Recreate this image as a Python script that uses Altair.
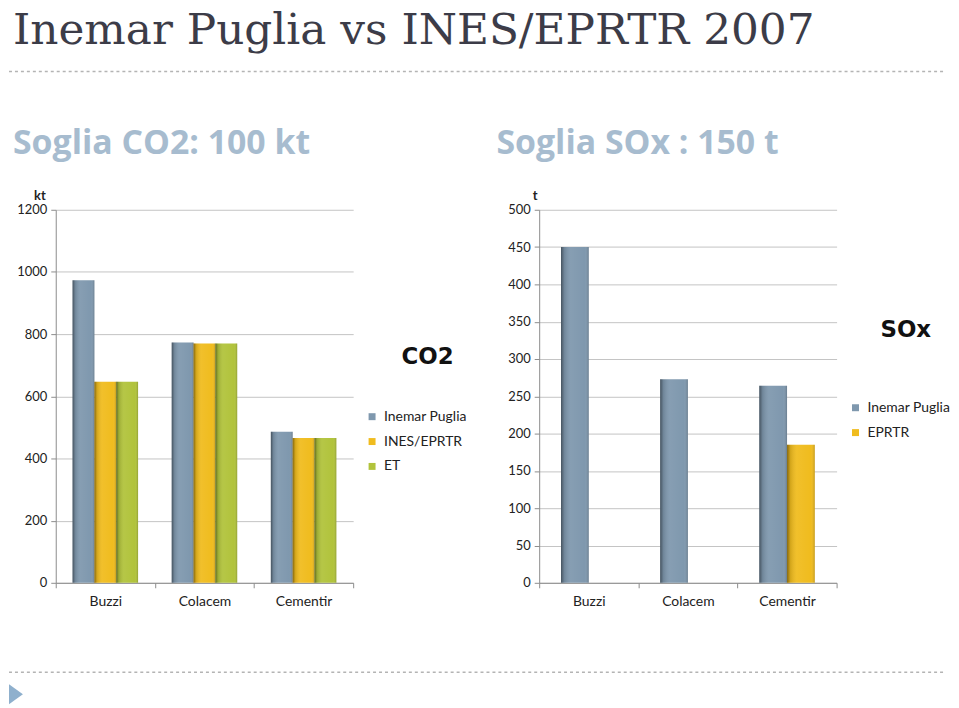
import altair as alt
import pandas as pd

categories = ["Buzzi", "Colacem", "Cementir"]
co2_series = ["Inemar Puglia", "INES/EPRTR", "ET"]
co2_inemar = [973, 773, 486]
co2_ines = [647, 770, 466]
co2_et = [647, 770, 466]
sox_series = ["Inemar Puglia", "EPRTR"]
sox_inemar = [450, 273, 264]
sox_eprtr = [None, None, 185]

co2_colors = ["#7f98ae", "#f0bc1e", "#b1c33b"]
sox_colors = ["#7f98ae", "#f0bc1e"]

SANS = "Lato"
BOLD = "Open Sans"

rows = []
for s, vals in zip(co2_series, [co2_inemar, co2_ines, co2_et]):
    for c, v in zip(categories, vals):
        rows.append({"cat": c, "serie_co2": s, "value": v})
co2_df = pd.DataFrame(rows)

rows = []
for s, vals in zip(sox_series, [sox_inemar, sox_eprtr]):
    for c, v in zip(categories, vals):
        if v is not None:
            rows.append({"cat": c, "serie_sox": s, "value": v})
sox_df = pd.DataFrame(rows)

shade = alt.LinearGradient(
    gradient="linear", x1=0, x2=1, y1=0, y2=0,
    stops=[
        alt.GradientStop(offset=0, color="rgba(0,0,0,0.45)"),
        alt.GradientStop(offset=0.12, color="rgba(0,0,0,0.12)"),
        alt.GradientStop(offset=0.35, color="rgba(255,255,255,0.06)"),
        alt.GradientStop(offset=0.85, color="rgba(255,255,255,0.0)"),
        alt.GradientStop(offset=1, color="rgba(0,0,0,0.18)"),
    ],
)

W, H = 299, 375


def one(text):
    return alt.Chart(pd.DataFrame({"t": [text]}))


def panel(df, field, series, colors, ymax, ystep, pout, legend_y, unit, big, big_xy, subtitle, extras):
    xenc = alt.X("cat:N", sort=categories, title=None,
                 scale=alt.Scale(paddingInner=0, paddingOuter=0),
                 axis=alt.Axis(tickBand="extent", labelAngle=0, labelFont=SANS,
                               labelFontSize=14, labelColor="#222222", labelPadding=7,
                               tickSize=5, domainColor="#8c8c8c", tickColor="#8c8c8c"))
    yenc = alt.Y("value:Q", title=None,
                 scale=alt.Scale(domain=[0, ymax], nice=False),
                 axis=alt.Axis(values=list(range(0, ymax + 1, ystep)), format="d", labelFont=SANS,
                               labelFontSize=13, labelColor="#222222", labelPadding=4,
                               tickSize=5, domainColor="#8c8c8c", tickColor="#8c8c8c",
                               gridColor="#c4c4c4"))
    xoff = alt.XOffset(f"{field}:N", sort=series,
                       scale=alt.Scale(domain=series, paddingInner=0, paddingOuter=pout))
    bars = alt.Chart(df).mark_bar().encode(
        x=xenc, y=yenc, xOffset=xoff,
        color=alt.Color(f"{field}:N", sort=series,
                        scale=alt.Scale(domain=series, range=colors),
                        legend=alt.Legend(orient="none", legendX=311, legendY=legend_y, title=None,
                                          symbolType="square", symbolSize=49, symbolStrokeWidth=0,
                                          labelFont=SANS, labelFontSize=14, labelColor="#222222",
                                          rowPadding=11, labelOffset=5, padding=0)),
    )
    shading = alt.Chart(df).mark_bar(fill=shade).encode(x=xenc, y=yenc, xOffset=xoff)
    sub = one(subtitle).mark_text(align="left", baseline="alphabetic", font=BOLD, fontWeight="bold",
                                  fontSize=34, color="#a7bccf").encode(
        x=alt.value(-43), y=alt.value(-56), text="t:N")
    unit_t = one(unit).mark_text(align="center", baseline="alphabetic", font=SANS, fontWeight="bold",
                                 fontSize=13, color="#222222").encode(
        x=alt.value(-16 if unit == "kt" else -4), y=alt.value(-10), text="t:N")
    big_t = one(big).mark_text(align="right", baseline="alphabetic", font="DejaVu Sans", fontWeight="bold",
                               fontSize=23, color="#111111").encode(
        x=alt.value(big_xy[0]), y=alt.value(big_xy[1]), text="t:N")
    return alt.layer(bars, shading, sub, unit_t, big_t, *extras).properties(width=W, height=H)


title = one("Inemar Puglia vs INES/EPRTR 2007").mark_text(
    align="left", baseline="alphabetic", font="DejaVu Serif", fontSize=44, color="#3c3c48").encode(
    x=alt.value(-43), y=alt.value(-167), text="t:N")
dash_top = one("a").mark_rule(color="#b4b4b4", strokeDash=[3, 3], strokeWidth=1.5).encode(
    x=alt.value(-47), x2=alt.value(895), y=alt.value(-139))
dash_bot = one("a").mark_rule(color="#b4b4b4", strokeDash=[3, 3], strokeWidth=1.5).encode(
    x=alt.value(-47), x2=alt.value(895), y=alt.value(465))
tri = one("a").mark_point(shape="M-0.7,-1L0.7,0L-0.7,1Z", filled=True, color="#8fb0cd",
                          opacity=1, size=400).encode(x=alt.value(-40), y=alt.value(487))

left = panel(co2_df, "serie_co2", co2_series, co2_colors, 1200, 200, 0.77, 201,
             "kt", "CO2", (400, 155), "Soglia CO2: 100 kt", [title, dash_top, dash_bot, tri])
right = panel(sox_df, "serie_sox", sox_series, sox_colors, 500, 50, 0.786, 192,
              "t", "SOx", (394, 128), "Soglia SOx : 150 t", [])

chart = alt.hconcat(left, right, spacing=187, bounds="flush").resolve_scale(
    color="independent", x="independent", y="independent", xOffset="independent").resolve_legend(
    color="independent").properties(
    padding={"left": 0, "top": -1, "right": 0, "bottom": 0}).configure_view(
    stroke=None).configure_axisX(grid=False).configure_axisY(grid=True)

chart.save("out.html", embed_options={"renderer": "svg", "actions": False})
